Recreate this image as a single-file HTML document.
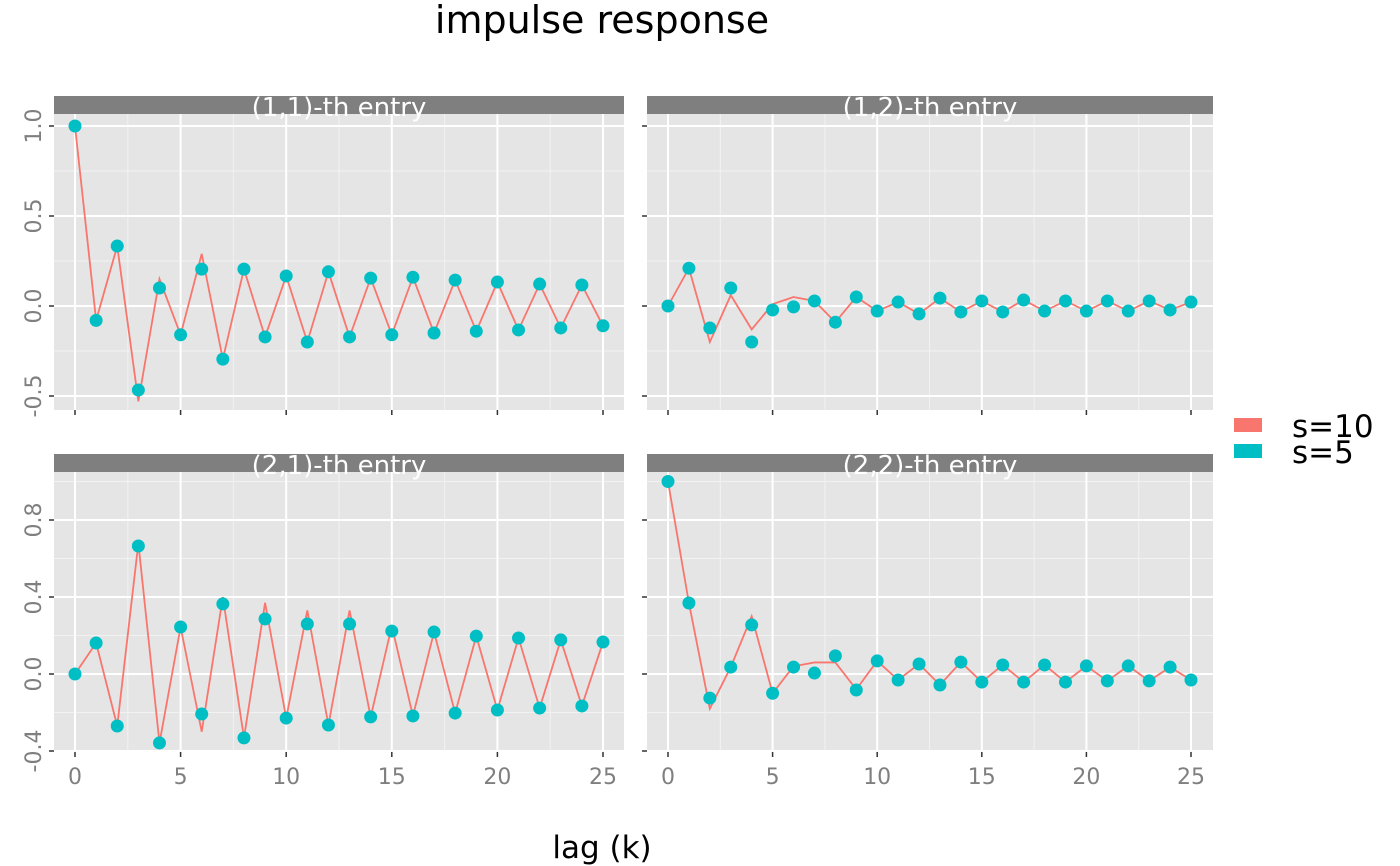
<!DOCTYPE html>
<html><head><meta charset="utf-8"><style>
body{margin:0;background:#fff;}
svg{display:block;font-family:"DejaVu Sans","Liberation Sans",sans-serif;}
</style></head><body>
<svg id="chart" width="1400" height="866">
<text x="602" y="33" font-size="38" text-anchor="middle" fill="#000">impulse response</text>
<text x="602" y="858" font-size="31" text-anchor="middle" fill="#000">lag (k)</text>
<g>
<rect x="1234" y="418" width="28" height="14" fill="#F8766D"/>
<text x="1292" y="437" font-size="31" fill="#000">s=10</text>
<rect x="1234" y="444" width="28" height="14" fill="#00BFC4"/>
<text x="1292" y="463" font-size="31" fill="#000">s=5</text>
</g>
</svg>
<script>
const lags = [0,1,2,3,4,5,6,7,8,9,10,11,12,13,14,15,16,17,18,19,20,21,22,23,24,25];
const e11_s5 = [1.0,-0.08,0.333,-0.467,0.1,-0.16,0.205,-0.295,0.205,-0.172,0.167,-0.2,0.19,-0.172,0.155,-0.16,0.16,-0.15,0.144,-0.14,0.133,-0.133,0.122,-0.122,0.117,-0.11];
const e11_s10 = [1.0,-0.08,0.333,-0.53,0.15,-0.16,0.29,-0.295,0.205,-0.172,0.167,-0.2,0.19,-0.172,0.155,-0.16,0.16,-0.15,0.144,-0.14,0.133,-0.133,0.122,-0.122,0.117,-0.11];
const e12_s5 = [0,0.21,-0.122,0.1,-0.2,-0.022,-0.005,0.028,-0.09,0.05,-0.028,0.022,-0.044,0.044,-0.033,0.028,-0.033,0.033,-0.028,0.028,-0.028,0.028,-0.028,0.028,-0.022,0.022];
const e12_s10 = [0,0.21,-0.2,0.06,-0.13,0.01,0.05,0.028,-0.09,0.05,-0.028,0.022,-0.044,0.044,-0.033,0.028,-0.033,0.033,-0.028,0.028,-0.028,0.028,-0.028,0.028,-0.022,0.022];
const e21_s5 = [0,0.161,-0.27,0.665,-0.358,0.244,-0.208,0.364,-0.332,0.286,-0.229,0.26,-0.265,0.26,-0.223,0.223,-0.218,0.218,-0.203,0.197,-0.187,0.187,-0.177,0.177,-0.166,0.166];
const e21_s10 = [0,0.161,-0.27,0.68,-0.358,0.244,-0.3,0.4,-0.332,0.37,-0.229,0.33,-0.265,0.33,-0.223,0.25,-0.218,0.218,-0.203,0.197,-0.187,0.187,-0.177,0.177,-0.166,0.166];
const e22_s5 = [1.0,0.369,-0.125,0.036,0.255,-0.1,0.036,0.005,0.094,-0.083,0.068,-0.031,0.052,-0.057,0.062,-0.042,0.047,-0.042,0.047,-0.042,0.042,-0.036,0.042,-0.036,0.036,-0.031];
const e22_s10 = [1.0,0.369,-0.18,0.036,0.3,-0.1,0.04,0.06,0.06,-0.08,0.068,-0.031,0.052,-0.057,0.062,-0.042,0.047,-0.042,0.047,-0.042,0.042,-0.036,0.042,-0.036,0.036,-0.031];
const titles = ["(1,1)-th entry","(1,2)-th entry","(2,1)-th entry","(2,2)-th entry"];
const xTicks = [0,5,10,15,20,25];
const yTicksTop = [-0.5,0.0,0.5,1.0];
const yTicksTopLabels = ["-0.5","0.0","0.5","1.0"];
const yMinorTop = [-0.25,0.25,0.75];
const yTicksBot = [-0.4,0.0,0.4,0.8];
const yTicksBotLabels = ["-0.4","0.0","0.4","0.8"];
const yMinorBot = [-0.2,0.2,0.6,1.0];

const NS="http://www.w3.org/2000/svg";
const svg=document.getElementById('chart');
function mk(tag,attrs,parent){const e=document.createElementNS(NS,tag);for(const k in attrs)e.setAttribute(k,attrs[k]);(parent||svg).appendChild(e);return e;}

const panels=[
 {x0:54,x1:624,y0:114,y1:410,top:96,x0v:75,x25:603,yz:306,yk:180,yt:yTicksTop,yl:yTicksTopLabels,ym:yMinorTop,s5:e11_s5,s10:e11_s10,lab:true,xlab:false},
 {x0:647,x1:1213,y0:114,y1:410,top:96,x0v:668,x25:1191,yz:306,yk:180,yt:yTicksTop,yl:yTicksTopLabels,ym:yMinorTop,s5:e12_s5,s10:e12_s10,lab:false,xlab:false},
 {x0:54,x1:624,y0:472,y1:752,top:454,x0v:75,x25:603,yz:674,yk:192.5,yt:yTicksBot,yl:yTicksBotLabels,ym:yMinorBot,s5:e21_s5,s10:e21_s10,lab:true,xlab:true},
 {x0:647,x1:1213,y0:472,y1:752,top:454,x0v:668,x25:1191,yz:674,yk:192.5,yt:yTicksBot,yl:yTicksBotLabels,ym:yMinorBot,s5:e22_s5,s10:e22_s10,lab:false,xlab:true}
];
panels.forEach((p,i)=>{
 const g=mk('g',{});
 
 
 const X=v=>p.x0v+(p.x25-p.x0v)*v/25;
 const Y=v=>p.yz-p.yk*v;
 const bg=mk('rect',{x:p.x0,y:p.y0,width:p.x1-p.x0,height:p.y1-p.y0,fill:'#e5e5e5'},g);
 
 
 const st=mk('rect',{x:p.x0,y:p.top,width:p.x1-p.x0,height:p.y0-p.top,fill:'#7f7f7f'},g);
 
 
 p.ym.forEach(v=>{const y=Y(v);if(y>=p.y0&&y<=p.y1)mk('line',{x1:p.x0,x2:p.x1,y1:y,y2:y,stroke:'#f2f2f2','stroke-width':1},g);});
 [2.5,7.5,12.5,17.5,22.5].forEach(v=>mk('line',{x1:X(v),x2:X(v),y1:p.y0,y2:p.y1,stroke:'#f2f2f2','stroke-width':1},g));
 p.yt.forEach((v,j)=>{const y=Y(v);
  mk('line',{x1:p.x0,x2:p.x1,y1:y,y2:y,stroke:'#fff','stroke-width':2},g);
  mk('line',{x1:p.x0-5,x2:p.x0,y1:y,y2:y,stroke:'#333','stroke-width':1.5},g);
  if(p.lab){const t=mk('text',{x:0,y:0,'font-size':22,'text-anchor':'middle',fill:'#7f7f7f',transform:`translate(${p.x0-13},${y}) rotate(-90)`},g);
   t.textContent=p.yl[j];
   
   }
 });
 xTicks.forEach(v=>{const x=X(v);
  mk('line',{x1:x,x2:x,y1:p.y0,y2:p.y1,stroke:'#fff','stroke-width':2},g);
  mk('line',{x1:x,x2:x,y1:p.y1,y2:p.y1+5,stroke:'#333','stroke-width':1.5},g);
  if(p.xlab){const t=mk('text',{x:x,y:p.y1+32,'font-size':22,'text-anchor':'middle',fill:'#7f7f7f'},g);
   t.textContent=String(v);
   
   }
 });
 const stt=mk('text',{x:(p.x0+p.x1)/2,y:p.top+20,'font-size':26,'text-anchor':'middle',fill:'#fff'},g);
 stt.textContent=titles[i];
 
 
 const ln=mk('polyline',{points:lags.map((l,k)=>X(l)+','+Y(p.s10[k])).join(' '),fill:'none',stroke:'#F8766D','stroke-width':1.8},g);
 
 
 lags.forEach((l,k)=>{const c=mk('circle',{cx:X(l),cy:Y(p.s5[k]),r:6.5,fill:'#00BFC4'},g);
  
  });
});
</script>
</body></html>
